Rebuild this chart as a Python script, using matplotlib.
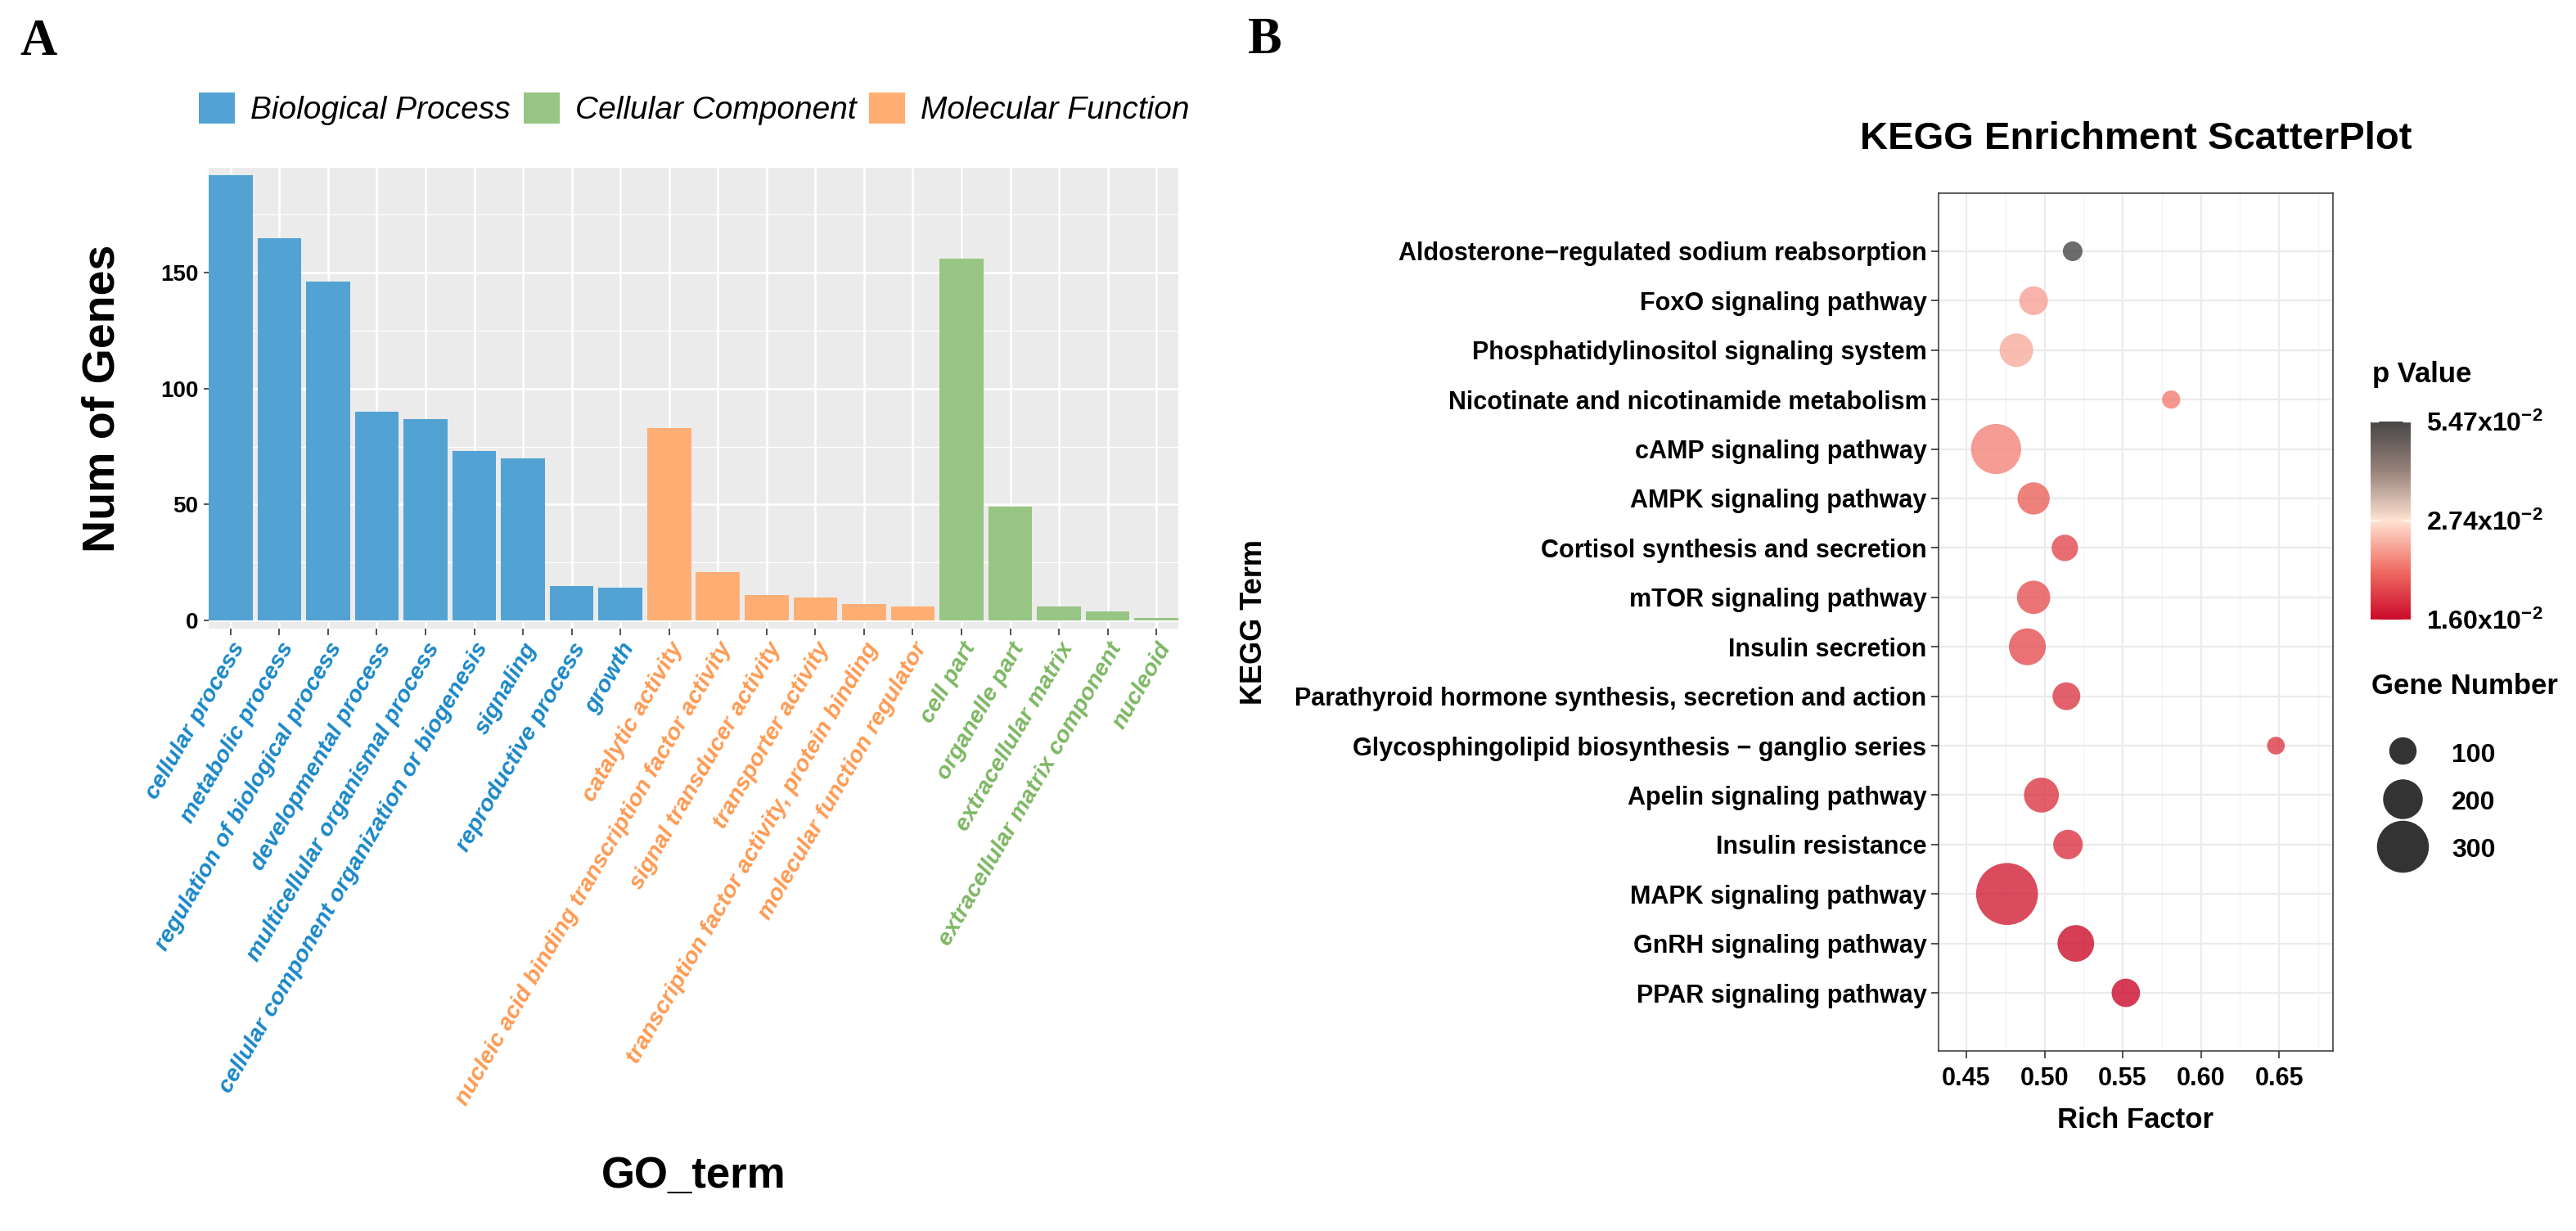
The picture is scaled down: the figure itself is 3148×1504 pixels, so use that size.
import matplotlib
matplotlib.use("Agg")
import matplotlib.pyplot as plt
from matplotlib.colors import LinearSegmentedColormap, TwoSlopeNorm
from matplotlib.cm import ScalarMappable
from matplotlib.patches import Patch
from matplotlib.lines import Line2D

plt.rcParams['font.family'] = ['Liberation Sans', 'DejaVu Sans']
plt.rcParams['mathtext.fontset'] = 'custom'
plt.rcParams['mathtext.bf'] = 'Liberation Sans:bold'
plt.rcParams['mathtext.rm'] = 'Liberation Sans:bold'
plt.rcParams['mathtext.default'] = 'bf'

# ---- panel A data (GO) ----
bp_terms = ["cellular process", "metabolic process", "regulation of biological process",
            "developmental process", "multicellular organismal process",
            "cellular component organization or biogenesis", "signaling",
            "reproductive process", "growth"]
bp_counts = [192, 165, 146, 90, 87, 73, 70, 15, 14]
mf_terms = ["catalytic activity", "nucleic acid binding transcription factor activity",
            "signal transducer activity", "transporter activity",
            "transcription factor activity, protein binding", "molecular function regulator"]
mf_counts = [83, 21, 11, 10, 7, 6]
cc_terms = ["cell part", "organelle part", "extracellular matrix",
            "extracellular matrix component", "nucleoid"]
cc_counts = [156, 49, 6, 4, 1]

groups = ["Biological Process", "Cellular Component", "Molecular Function"]
bar_cols = {"Biological Process": "#52A3D3", "Cellular Component": "#97C584",
            "Molecular Function": "#FFAE73"}
txt_cols = {"Biological Process": "#1A88C8", "Cellular Component": "#7DB763",
            "Molecular Function": "#FF9A52"}

# ---- panel B data (KEGG), top to bottom ----
kegg_terms = ["Aldosterone\u2212regulated sodium reabsorption", "FoxO signaling pathway",
              "Phosphatidylinositol signaling system", "Nicotinate and nicotinamide metabolism",
              "cAMP signaling pathway", "AMPK signaling pathway",
              "Cortisol synthesis and secretion", "mTOR signaling pathway",
              "Insulin secretion", "Parathyroid hormone synthesis, secretion and action",
              "Glycosphingolipid biosynthesis \u2212 ganglio series", "Apelin signaling pathway",
              "Insulin resistance", "MAPK signaling pathway", "GnRH signaling pathway",
              "PPAR signaling pathway"]
rich = [0.518, 0.493, 0.482, 0.581, 0.469, 0.493, 0.513, 0.493,
        0.489, 0.514, 0.648, 0.498, 0.515, 0.476, 0.520, 0.552]
genes = [37, 110, 150, 25, 285, 139, 92, 148, 177, 103, 21, 161, 117, 381, 175, 108]
pvals = [0.0547, 0.0242, 0.0247, 0.0225, 0.0228, 0.0210, 0.0196, 0.0201,
         0.0200, 0.0187, 0.0187, 0.0185, 0.0184, 0.0172, 0.0162, 0.0160]
p_breaks = [0.0160, 0.0274, 0.0547]
p_labels = [r"1.60x10$^{-2}$", r"2.74x10$^{-2}$", r"5.47x10$^{-2}$"]
size_breaks = [100, 200, 300]

W, H = 3148, 1504
fig = plt.figure(figsize=(W / 100, H / 100), dpi=100)
fig.patch.set_facecolor("white")

# ================= panel A =================
terms = bp_terms + mf_terms + cc_terms
counts = bp_counts + mf_counts + cc_counts
cats = (["Biological Process"] * len(bp_terms) + ["Molecular Function"] * len(mf_terms)
        + ["Cellular Component"] * len(cc_terms))
x = list(range(len(terms)))

ax1 = fig.add_axes([255 / W, 1 - 768 / H, 1185 / W, 563 / H])
ax1.set_facecolor("#EBEBEB")
ax1.bar(x, counts, width=0.9, color=[bar_cols[c] for c in cats], zorder=3)
ax1.set_xlim(-0.45, len(terms) - 0.55)
ax1.set_ylim(-3.5, 195.2)
ax1.set_yticks([0, 50, 100, 150])
ax1.set_yticks([25, 75, 125, 175], minor=True)
ax1.grid(which="major", color="white", lw=1.8, zorder=0)
ax1.grid(which="minor", axis="y", color="white", lw=0.9, zorder=0)
ax1.set_axisbelow(True)
for s in ax1.spines.values():
    s.set_visible(False)
ax1.set_xticks(x)
ax1.set_xticklabels(terms, rotation=60, ha="right", va="top", rotation_mode="anchor",
                    fontsize=20.5, fontweight="bold", fontstyle="italic")
for lab, c in zip(ax1.get_xticklabels(), cats):
    lab.set_color(txt_cols[c])
ax1.tick_params(axis="x", length=6, width=1.2, color="#333333", pad=3)
ax1.tick_params(axis="y", which="major", length=4, width=1.2, color="#333333", pad=5,
                labelsize=20)
ax1.tick_params(axis="y", which="minor", length=0)
for lab in ax1.get_yticklabels():
    lab.set_fontweight("bold")
ax1.set_ylabel("Num of Genes", fontsize=40, fontweight="bold")
ax1.yaxis.set_label_coords(-0.087, 0.5)
ax1.set_xlabel("GO_term", fontsize=38, fontweight="bold")
ax1.xaxis.set_label_coords(0.5, -1.144)

handles = [Patch(facecolor=bar_cols[g], edgecolor="none", label=g) for g in groups]
fig.legend(handles=handles, loc="upper left", bbox_to_anchor=(243 / W, 1 - 113 / H),
           ncol=3, frameon=False, prop={"style": "italic", "size": 28},
           handlelength=1.13, handleheight=1.13, handletextpad=0.49,
           columnspacing=0.41, borderpad=0, borderaxespad=0)

# ================= panel B =================
cmap = LinearSegmentedColormap.from_list(
    "pv", [(0.0, "#CB0A2A"), (0.25, "#F06E64"), (0.5, "#FFE2D2"),
           (0.75, "#98827A"), (1.0, "#474747")])
norm = TwoSlopeNorm(vmin=p_breaks[0], vcenter=p_breaks[1], vmax=p_breaks[2])


def marker_area(n):
    d_px = 18.5 + 0.15 * n
    return (d_px * 0.72) ** 2


n = len(kegg_terms)
ypos = [n - 1 - i for i in range(n)]
ax2 = fig.add_axes([2369 / W, 1 - 1284 / H, 482 / W, 1048 / H])
ax2.scatter(rich, ypos, s=[marker_area(g) for g in genes], c=pvals, cmap=cmap, norm=norm,
            alpha=0.8, edgecolors="none", zorder=3)
ax2.set_xlim(0.4322, 0.6845)
ax2.set_ylim(-1.175, n - 1 + 1.175)
ax2.set_xticks([0.45, 0.50, 0.55, 0.60, 0.65])
ax2.set_xticklabels(["0.45", "0.50", "0.55", "0.60", "0.65"])
ax2.set_xticks([0.475, 0.525, 0.575, 0.625, 0.675], minor=True)
ax2.set_yticks(ypos)
ax2.set_yticklabels(kegg_terms)
ax2.grid(which="major", color="#EBEBEB", lw=1.6, zorder=0)
ax2.grid(which="minor", axis="x", color="#F2F2F2", lw=0.9, zorder=0)
ax2.set_axisbelow(True)
for s in ax2.spines.values():
    s.set_color("#333333")
    s.set_linewidth(1.1)
ax2.tick_params(axis="both", which="major", length=6.5, width=1.2, color="#333333")
ax2.tick_params(axis="x", which="minor", length=0)
ax2.tick_params(axis="x", labelsize=22, pad=7)
ax2.tick_params(axis="y", labelsize=22, pad=4)
for lab in ax2.get_xticklabels() + ax2.get_yticklabels():
    lab.set_fontweight("bold")
ax2.set_title("KEGG Enrichment ScatterPlot", fontsize=34, fontweight="bold", pad=39)
ax2.set_xlabel("Rich Factor", fontsize=25, fontweight="bold")
ax2.xaxis.set_label_coords(0.5, -0.065)
ax2.set_ylabel("KEGG Term", fontsize=26, fontweight="bold")
ax2.yaxis.set_label_coords(-1.70, 0.5)

# colour bar
cax = fig.add_axes([2897 / W, 1 - 757 / H, 49 / W, 242 / H])
cb = fig.colorbar(ScalarMappable(norm=norm, cmap=cmap), cax=cax)
cb.outline.set_visible(False)
cb.set_ticks(p_breaks)
cb.set_ticklabels(p_labels)
cax.tick_params(axis="y", direction="in", length=7, width=1, color="white",
                labelsize=23, pad=14, left=True)
for lab in cax.get_yticklabels():
    lab.set_fontweight("bold")
fig.text(2899 / W, 1 - 467 / H, "p Value", fontsize=25, fontweight="bold", va="baseline")

# gene number legend
fig.text(2898 / W, 1 - 848 / H, "Gene Number", fontsize=25, fontweight="bold",
         va="baseline")
size_handles = [Line2D([], [], ls="", marker="o", markersize=marker_area(b) ** 0.5,
                       markerfacecolor="#333333", markeredgecolor="none") for b in size_breaks]
fig.legend(size_handles, [str(b) for b in size_breaks], loc="center left",
           bbox_to_anchor=(2893 / W, 1 - 979 / H), frameon=False,
           prop={"weight": "bold", "size": 23}, handlelength=2.7, handleheight=1.2,
           handletextpad=0.53, labelspacing=0.75, borderpad=0, borderaxespad=0)

# panel letters
fig.text(24 / W, 1 - 67 / H, "A", family="Liberation Serif", fontweight="bold",
         fontsize=45, va="baseline")
fig.text(1525 / W, 1 - 65 / H, "B", family="Liberation Serif", fontweight="bold",
         fontsize=45, va="baseline")

fig.savefig("out.png", dpi=100, facecolor="white")
